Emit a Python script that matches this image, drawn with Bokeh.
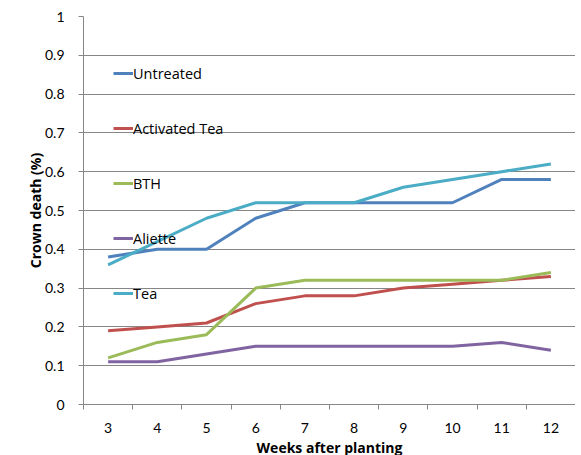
from bokeh.plotting import figure
from bokeh.models import FixedTicker, Legend, LegendItem, Range1d
from bokeh.embed import file_html
from bokeh.resources import INLINE

weeks = [3, 4, 5, 6, 7, 8, 9, 10, 11, 12]
untreated = [0.38, 0.40, 0.40, 0.48, 0.52, 0.52, 0.52, 0.52, 0.58, 0.58]
activated_tea = [0.19, 0.20, 0.21, 0.26, 0.28, 0.28, 0.30, 0.31, 0.32, 0.33]
bth = [0.12, 0.16, 0.18, 0.30, 0.32, 0.32, 0.32, 0.32, 0.32, 0.34]
aliette = [0.11, 0.11, 0.13, 0.15, 0.15, 0.15, 0.15, 0.15, 0.16, 0.14]
tea = [0.36, 0.42, 0.48, 0.52, 0.52, 0.52, 0.56, 0.58, 0.60, 0.62]
y_ticks = [0, 0.1, 0.2, 0.3, 0.4, 0.5, 0.6, 0.7, 0.8, 0.9, 1.0]

series = [
    ("Untreated", untreated, "#4F81BD"),
    ("Activated Tea", activated_tea, "#C0504D"),
    ("BTH", bth, "#9BBB59"),
    ("Aliette", aliette, "#8064A2"),
    ("Tea", tea, "#4BACC6"),
]

p = figure(width=578, height=455, output_backend="svg", toolbar_location=None,
           x_range=Range1d(2.5, 12.5), y_range=Range1d(0, 1),
           frame_width=492, frame_height=388,
           min_border_left=83, min_border_right=0, min_border_top=16, min_border_bottom=51)
p.outline_line_color = None

items = []
for name, vals, col in series:
    r = p.line(weeks, vals, line_color=col, line_width=3)
    items.append(LegendItem(label=name, renderers=[r]))

legend = Legend(items=items, location=(30, 101), orientation="vertical",
                border_line_color=None, background_fill_alpha=0, padding=0, margin=0,
                spacing=35, glyph_width=20, glyph_height=20, label_height=20,
                label_standoff=0, label_text_font="Open Sans", label_text_font_size="14.5px",
                label_text_color="#000000")
p.add_layout(legend)

gray = "#868686"
xmin = [w - 0.5 for w in weeks] + [weeks[-1] + 0.5]
p.xaxis.ticker = FixedTicker(ticks=weeks, minor_ticks=xmin)
p.xaxis.major_tick_out = 0
p.xaxis.major_tick_in = 0
p.xaxis.minor_tick_out = 5
p.xaxis.minor_tick_in = 0
p.xaxis.minor_tick_line_color = gray
p.xaxis.axis_line_color = gray
p.xaxis.major_label_standoff = 13
p.xaxis.axis_label = "Weeks after planting"
p.xgrid.grid_line_color = None

p.yaxis.ticker = FixedTicker(ticks=y_ticks)
p.yaxis.major_label_overrides = {t: ("%g" % t) for t in y_ticks}
p.yaxis.major_tick_out = 5
p.yaxis.major_tick_in = 0
p.yaxis.minor_tick_line_color = None
p.yaxis.major_tick_line_color = gray
p.yaxis.axis_line_color = gray
p.yaxis.major_label_standoff = 14
p.yaxis.axis_label = "Crown death (%)"
p.ygrid.grid_line_color = gray
p.ygrid.ticker = FixedTicker(ticks=y_ticks)

for ax in (p.xaxis, p.yaxis):
    ax.major_label_text_font = "Lato"
    ax.major_label_text_font_size = "14px"
    ax.major_label_text_color = "#000000"
    ax.axis_label_text_font = "Open Sans"
    ax.axis_label_text_font_size = "14px"
    ax.axis_label_text_font_style = "bold"
    ax.axis_label_text_color = "#000000"
p.xaxis.axis_label_standoff = 2
p.yaxis.axis_label_standoff = -3

open("out.html", "w").write(file_html(p, INLINE))
